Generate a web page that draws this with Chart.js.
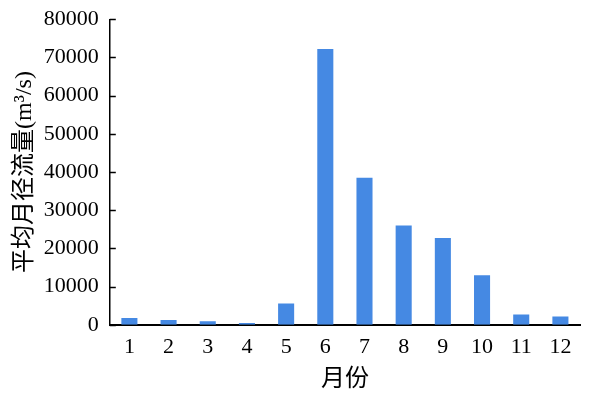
<!DOCTYPE html>
<html>
<head>
<meta charset="utf-8">
<script src="https://cdn.jsdelivr.net/npm/chart.js@4/dist/chart.umd.min.js"></script>
<style>
  html, body { margin: 0; padding: 0; background: #fff; }
  #wrap { width: 593px; height: 398px; }
</style>
</head>
<body>
<div id="wrap"><canvas id="grafica"></canvas></div>
<script>
const months = ["1", "2", "3", "4", "5", "6", "7", "8", "9", "10", "11", "12"];
const flow = [1750, 1250, 900, 450, 5600, 72200, 38500, 26000, 22700, 13000, 2700, 2150];
const yMin = 0;
const yMax = 80000;
const yStep = 10000;

const fontFam = "'Liberation Serif', 'Noto Sans CJK SC', serif";

// little ticks pointing into the plot, like the original
const inwardTicks = {
    id: "inwardTicks",
    afterDraw(chart) {
        const y = chart.scales.y;
        const ctx = chart.ctx;
        const left = chart.chartArea.left;
        ctx.save();
        ctx.strokeStyle = "#000";
        ctx.lineWidth = 1.5;
        y.ticks.forEach(t => {
            const py = Math.round(y.getPixelForValue(t.value)) + 0.5;
            ctx.beginPath();
            ctx.moveTo(left, py);
            ctx.lineTo(left + 6, py);
            ctx.stroke();
        });
        ctx.restore();
    }
};

new Chart("grafica", {
    type: "bar",
    data: {
        labels: months,
        datasets: [{
            data: flow,
            backgroundColor: "#4589e3",
            borderWidth: 0,
            barPercentage: 0.41,
            categoryPercentage: 1
        }]
    },
    plugins: [inwardTicks],
    options: {
        responsive: true,
        maintainAspectRatio: false,
        animation: false,
        layout: {
            padding: { left: 10, right: 13, top: 0, bottom: 4 }
        },
        scales: {
            x: {
                grid: { display: false, drawTicks: false },
                border: { display: true, color: "#000", width: 2 },
                ticks: {
                    color: "#000",
                    font: { family: fontFam, size: 22 },
                    padding: 9
                },
                title: {
                    display: true,
                    text: "月份",
                    color: "#000",
                    font: { family: fontFam, size: 24 },
                    padding: { top: -4, bottom: 0 }
                }
            },
            y: {
                min: yMin,
                max: yMax,
                grid: { display: false, drawTicks: false },
                border: { display: true, color: "#000", width: 1.5 },
                ticks: {
                    stepSize: yStep,
                    color: "#000",
                    font: { family: fontFam, size: 22, lineHeight: 0.75 },
                    padding: 11,
                    callback: v => String(v)
                },
                title: {
                    display: true,
                    text: "平均月径流量(m³/s)",
                    color: "#000",
                    font: { family: fontFam, size: 24 },
                    padding: { top: 0, bottom: -6 }
                }
            }
        },
        plugins: {
            legend: { display: false },
            tooltip: { enabled: false }
        }
    }
});
</script>
</body>
</html>
